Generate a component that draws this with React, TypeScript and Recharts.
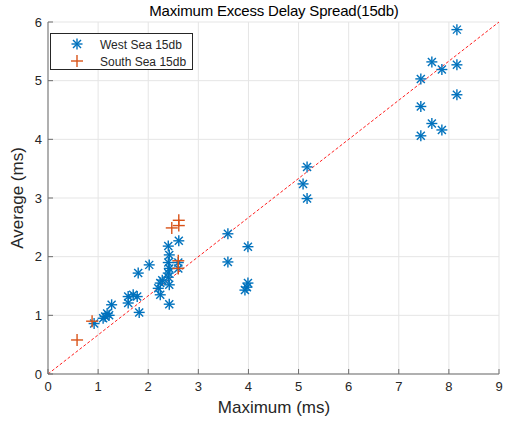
import { ScatterChart, Scatter, XAxis, YAxis, CartesianGrid, ReferenceLine } from "recharts";

const xTicks = [0, 1, 2, 3, 4, 5, 6, 7, 8, 9];
const yTicks = [0, 1, 2, 3, 4, 5, 6];

const westX = [
  0.92, 1.1, 1.14, 1.18, 1.22, 1.27, 1.6, 1.6, 1.7, 1.78, 1.82, 1.8, 2.02, 2.2, 2.24, 2.24, 2.28, 2.42, 2.42, 2.4,
  2.4, 2.42, 2.4, 2.42, 2.4, 2.61, 2.6, 2.6, 3.59, 3.59, 3.99, 3.99, 3.97, 3.93, 5.17, 5.09, 5.17, 8.16, 7.66, 7.86,
  8.16, 7.44, 8.16, 7.44, 7.66, 7.86, 7.44,
];
const westY = [
  0.86, 0.95, 0.98, 1.03, 1.0, 1.18, 1.21, 1.32, 1.35, 1.32, 1.05, 1.72, 1.86, 1.46, 1.55, 1.35, 1.6, 1.19, 1.52, 1.65,
  1.72, 1.8, 1.9, 2.03, 2.18, 2.27, 1.9, 1.8, 2.39, 1.91, 2.17, 1.55, 1.48, 1.43, 3.53, 3.24, 2.99, 5.87, 5.32, 5.19,
  5.27, 5.03, 4.76, 4.56, 4.27, 4.16, 4.06,
];

const southX = [0.58, 0.88, 2.47, 2.61, 2.61, 2.6, 2.6];
const southY = [0.58, 0.9, 2.49, 2.62, 2.53, 1.93, 1.8];

const refLine = [
  { x: 0, y: 0 },
  { x: 9, y: 6 },
];

const west = westX.map((x, i) => ({ x, y: westY[i] }));
const south = southX.map((x, i) => ({ x, y: southY[i] }));

const BLUE = "#0072BD";
const ORANGE = "#D95319";
const AXIS = "#6e6e6e";
const TEXT = "#262626";
const FONT = "'Liberation Sans', Arial, sans-serif";

function Star({ cx, cy }: any) {
  const r = 5.5;
  const d = 4;
  return (
    <g stroke={BLUE} strokeWidth={1.4}>
      <line x1={cx - r} y1={cy} x2={cx + r} y2={cy} />
      <line x1={cx} y1={cy - r} x2={cx} y2={cy + r} />
      <line x1={cx - d} y1={cy - d} x2={cx + d} y2={cy + d} />
      <line x1={cx - d} y1={cy + d} x2={cx + d} y2={cy - d} />
    </g>
  );
}

function Plus({ cx, cy }: any) {
  const r = 6;
  return (
    <g stroke={ORANGE} strokeWidth={1.4}>
      <line x1={cx - r} y1={cy} x2={cx + r} y2={cy} />
      <line x1={cx} y1={cy - r} x2={cx} y2={cy + r} />
    </g>
  );
}

function LegendBox() {
  return (
    <div
      style={{
        position: "absolute",
        left: 50,
        top: 33,
        width: 141,
        height: 35,
        border: "1px solid #262626",
        background: "#fff",
      }}
    >
      <svg width={141} height={35} style={{ display: "block" }}>
        <Star cx={26} cy={10} />
        <Plus cx={26} cy={27} />
        <text x={49} y={14.5} fill={TEXT} fontSize={12} fontFamily={FONT}>
          West Sea 15db
        </text>
        <text x={49} y={31.5} fill={TEXT} fontSize={12} fontFamily={FONT}>
          South Sea 15db
        </text>
      </svg>
    </div>
  );
}

export default function App() {
  const tickStyle = { fontSize: 13, fill: TEXT, fontFamily: FONT };
  return (
    <div style={{ position: "absolute", left: 0, top: 0, width: 505, height: 423, background: "#fff" }}>
      <div
        style={{
          position: "absolute",
          left: 0,
          width: 548,
          top: 2,
          textAlign: "center",
          fontFamily: FONT,
          fontSize: 15,
          color: "#000",
          letterSpacing: -0.2,
        }}
      >
        Maximum Excess Delay Spread(15db)
      </div>
      <div
        style={{
          position: "absolute",
          left: 0,
          width: 548,
          top: 398,
          textAlign: "center",
          fontFamily: FONT,
          fontSize: 17,
          color: TEXT,
        }}
      >
        Maximum (ms)
      </div>
      <div
        style={{
          position: "absolute",
          left: 18,
          top: 198,
          transform: "translate(-50%, -50%) rotate(-90deg)",
          whiteSpace: "nowrap",
          fontFamily: FONT,
          fontSize: 17,
          color: TEXT,
        }}
      >
        Average (ms)
      </div>
      <ScatterChart width={505} height={423} margin={{ top: 22, right: 6, bottom: 0, left: 0 }}>
        <CartesianGrid stroke="#e5e5e5" strokeWidth={1} xAxisId="bottom" yAxisId="left" />
        <XAxis
          xAxisId="bottom"
          type="number"
          dataKey="x"
          domain={[0, 9]}
          ticks={xTicks}
          height={49}
          tickSize={-5}
          tickMargin={13}
          stroke={AXIS}
          tick={tickStyle}
          interval={0}
        />
        <XAxis
          xAxisId="top"
          orientation="top"
          type="number"
          dataKey="x"
          domain={[0, 9]}
          ticks={xTicks}
          height={0}
          tickSize={-5}
          tickFormatter={() => ""}
          stroke={AXIS}
        />
        <YAxis
          yAxisId="left"
          type="number"
          dataKey="y"
          domain={[0, 6]}
          ticks={yTicks}
          width={48}
          tickSize={-5}
          tickMargin={11}
          stroke={AXIS}
          tick={tickStyle}
          interval={0}
        />
        <YAxis
          yAxisId="right"
          orientation="right"
          type="number"
          dataKey="y"
          domain={[0, 6]}
          ticks={yTicks}
          width={0}
          tickSize={-5}
          tickFormatter={() => ""}
          stroke={AXIS}
        />
        <Scatter
          name="West Sea 15db"
          data={west}
          xAxisId="bottom"
          yAxisId="left"
          shape={<Star />}
          isAnimationActive={false}
        />
        <Scatter
          name="South Sea 15db"
          data={south}
          xAxisId="bottom"
          yAxisId="left"
          shape={<Plus />}
          isAnimationActive={false}
        />
        <ReferenceLine
          xAxisId="bottom"
          yAxisId="left"
          segment={refLine}
          stroke="#ff2020"
          strokeDasharray="3 2"
          strokeWidth={1}
        />
      </ScatterChart>
      <LegendBox />
    </div>
  );
}
